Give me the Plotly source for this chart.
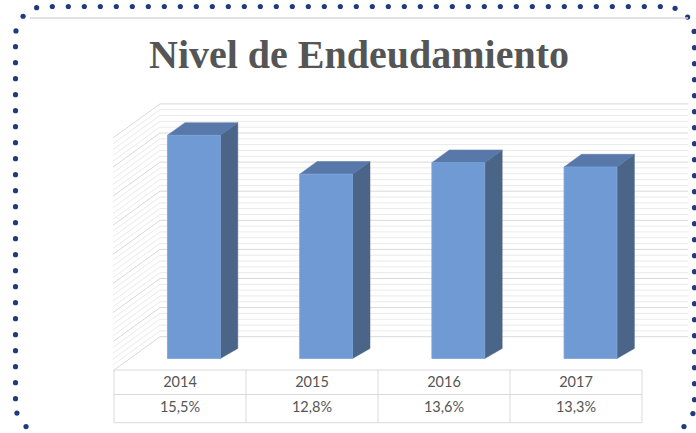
import math
import plotly.graph_objects as go

# ---- data -------------------------------------------------------------
years = ["2014", "2015", "2016", "2017"]
debt_ratio = [15.5, 12.8, 13.6, 13.3]          # Nivel de endeudamiento, %
wall_major = [0, 2, 4, 6, 8, 10, 12, 14, 16]   # value-axis gridlines (%)
title_text = "Nivel de Endeudamiento"

# ---- canvas -----------------------------------------------------------
W, H = 696, 433
TEXT_GREY = "#555555"
GRID = "#D9D9D9"
GRID_MINOR = "#EAEAEA"
DOT = "#1F3B7C"
FRONT = "#6F9AD3"
SIDE = "#4A6588"
TOP = "#5878A9"

fig = go.Figure()

# ---- back wall + side wall gridlines (axis x2/y2: px horizontally, % vertically)
WALL_FRONT_X, WALL_BACK_X, WALL_RIGHT_X = 113, 160, 688
WALL_DROP = 2.34   # the side wall's front edge sits lower than the back wall

def wall_line(v):
    return [WALL_FRONT_X, WALL_BACK_X, WALL_RIGHT_X, None], [v - WALL_DROP, v, v, None]

minor_x, minor_y = [], []
step = 0.4
n_minor = int(round((wall_major[-1] - wall_major[0]) / step))
for k in range(n_minor + 1):
    v = wall_major[0] + k * step
    if any(abs(v - m) < 1e-6 for m in wall_major):
        continue
    xs, ys = wall_line(v)
    minor_x += xs
    minor_y += ys
fig.add_trace(go.Scatter(x=minor_x, y=minor_y, mode="lines", xaxis="x2", yaxis="y2",
                         line=dict(color=GRID_MINOR, width=1), hoverinfo="skip"))

major_x, major_y = [], []
for v in wall_major:
    xs, ys = wall_line(v)
    major_x += xs
    major_y += ys
fig.add_trace(go.Scatter(x=major_x, y=major_y, mode="lines", xaxis="x2", yaxis="y2",
                         line=dict(color=GRID, width=1), hoverinfo="skip"))

# ---- 3D-looking columns (axis x3/y3: category index, %)
HALF = 0.2          # half width of the front face
DEPTH_X = 0.132     # receding offset, category units
DEPTH_TOP = 0.88    # receding offset at the top, % units
DEPTH_BOT = 0.70    # receding offset at the floor, % units

for i, v in enumerate(debt_ratio):
    L, R = i - HALF, i + HALF
    # side face
    fig.add_trace(go.Scatter(
        x=[R, R + DEPTH_X, R + DEPTH_X, R, R],
        y=[0, DEPTH_BOT, v + DEPTH_TOP, v, 0],
        mode="lines", fill="toself", fillcolor=SIDE,
        line=dict(color=SIDE, width=0.5), xaxis="x3", yaxis="y3", hoverinfo="skip"))
    # top face
    fig.add_trace(go.Scatter(
        x=[L, L + DEPTH_X, R + DEPTH_X, R, L],
        y=[v, v + DEPTH_TOP, v + DEPTH_TOP, v, v],
        mode="lines", fill="toself", fillcolor=TOP,
        line=dict(color=TOP, width=0.5), xaxis="x3", yaxis="y3", hoverinfo="skip"))
    # front face
    fig.add_trace(go.Scatter(
        x=[L, R, R, L, L],
        y=[0, 0, v, v, 0],
        mode="lines", fill="toself", fillcolor=FRONT,
        line=dict(color="#7BA3D8", width=0.8), xaxis="x3", yaxis="y3",
        name=years[i], hovertemplate=f"{years[i]}: %{{customdata}}<extra></extra>",
        customdata=[f"{v:.1f}%".replace(".", ",")] * 5))

# ---- dotted rounded frame (axis x/y: pixel units)
R_C = 29.5
dots_x, dots_y = [], []
x = 52.3
while x <= 661:
    dots_x.append(x); dots_y.append(6.5); x += 16
y = 47.7
while y <= 400:
    dots_x.append(694.5); dots_y.append(y); y += 16
y = 46.7
while y <= 400:
    dots_x.append(15.5); dots_y.append(y); y += 16
x = 56
while x <= 656:
    dots_x.append(x); dots_y.append(434.5); x += 16
for a in (16.5, 48, 80):
    r = math.radians(a)
    dots_x.append(45 - R_C * math.sin(r)); dots_y.append(36 - R_C * math.cos(r))
for a in (20, 50, 81):
    r = math.radians(a)
    dots_x.append(665 + R_C * math.sin(r)); dots_y.append(36 - R_C * math.cos(r))
for a in (18, 50, 80):
    r = math.radians(a)
    dots_x.append(45 - R_C * math.cos(r)); dots_y.append(404 + R_C * math.sin(r))
for a in (19, 50, 80):
    r = math.radians(a)
    dots_x.append(665 + R_C * math.cos(r)); dots_y.append(404 + R_C * math.sin(r))
fig.add_trace(go.Scatter(x=dots_x, y=dots_y, mode="markers", cliponaxis=False,
                         marker=dict(size=5.2, color=DOT, line=dict(width=0)),
                         hoverinfo="skip"))

# ---- chart-area top edge and data table grid (pixel units)
line_x = [30, 688, None]
line_y = [18, 18, None]
fig.add_trace(go.Scatter(x=line_x, y=line_y, mode="lines",
                         line=dict(color=GRID, width=1.5), hoverinfo="skip"))

TBL_L, COL_W = 114, 132
TBL_TOP, TBL_MID, TBL_BOT = 370, 394.5, 422.7
TBL_R = TBL_L + COL_W * len(years)
tx, ty = [], []
for yy in (TBL_TOP, TBL_MID, TBL_BOT):
    tx += [TBL_L, TBL_R, None]; ty += [yy, yy, None]
for c in range(len(years) + 1):
    xx = TBL_L + c * COL_W
    tx += [xx, xx, None]; ty += [TBL_TOP, TBL_BOT, None]
fig.add_trace(go.Scatter(x=tx, y=ty, mode="lines",
                         line=dict(color=GRID, width=1), hoverinfo="skip"))

# table text: year row and value row
col_centers = [TBL_L + COL_W * (c + 0.5) for c in range(len(years))]
fig.add_trace(go.Scatter(x=col_centers, y=[383.5] * len(years), mode="text",
                         text=years, textposition="middle center",
                         textfont=dict(family="Lato", size=14.5, color=TEXT_GREY),
                         hoverinfo="skip"))
fig.add_trace(go.Scatter(x=col_centers, y=[408.5] * len(years), mode="text",
                         text=[f"{v:.1f}%".replace(".", ",") for v in debt_ratio],
                         textposition="middle center",
                         textfont=dict(family="Lato", size=14.5, color=TEXT_GREY),
                         hoverinfo="skip"))

# ---- title
fig.add_annotation(text=f"<b>{title_text}</b>", x=359 / W, y=1 - 54 / H,
                   xref="paper", yref="paper", showarrow=False,
                   xanchor="center", yanchor="middle",
                   font=dict(family="Liberation Serif", size=40, color=TEXT_GREY))

# ---- axes
hidden = dict(visible=False, showgrid=False, zeroline=False, fixedrange=True)
BASE_PX, PX_PER_PCT = 358.5, 14.4
C0_PX, PX_PER_CAT = 193.9, 132.2
WALL_BASE_PX, WALL_PX_PER_PCT = 336.7, 14.55

fig.update_layout(
    width=W, height=H,
    margin=dict(l=0, r=0, t=0, b=0),
    paper_bgcolor="white", plot_bgcolor="rgba(0,0,0,0)",
    showlegend=False,
    xaxis=dict(range=[0, W], domain=[0, 1], **hidden),
    yaxis=dict(range=[H, 0], domain=[0, 1], **hidden),
    xaxis2=dict(range=[0, W], overlaying="x", **hidden),
    yaxis2=dict(range=[(WALL_BASE_PX - H) / WALL_PX_PER_PCT, WALL_BASE_PX / WALL_PX_PER_PCT],
                overlaying="y", **hidden),
    xaxis3=dict(range=[-C0_PX / PX_PER_CAT, (W - C0_PX) / PX_PER_CAT], overlaying="x", **hidden),
    yaxis3=dict(range=[(BASE_PX - H) / PX_PER_PCT, BASE_PX / PX_PER_PCT],
                overlaying="y", **hidden),
)

fig.write_html("out.html")
